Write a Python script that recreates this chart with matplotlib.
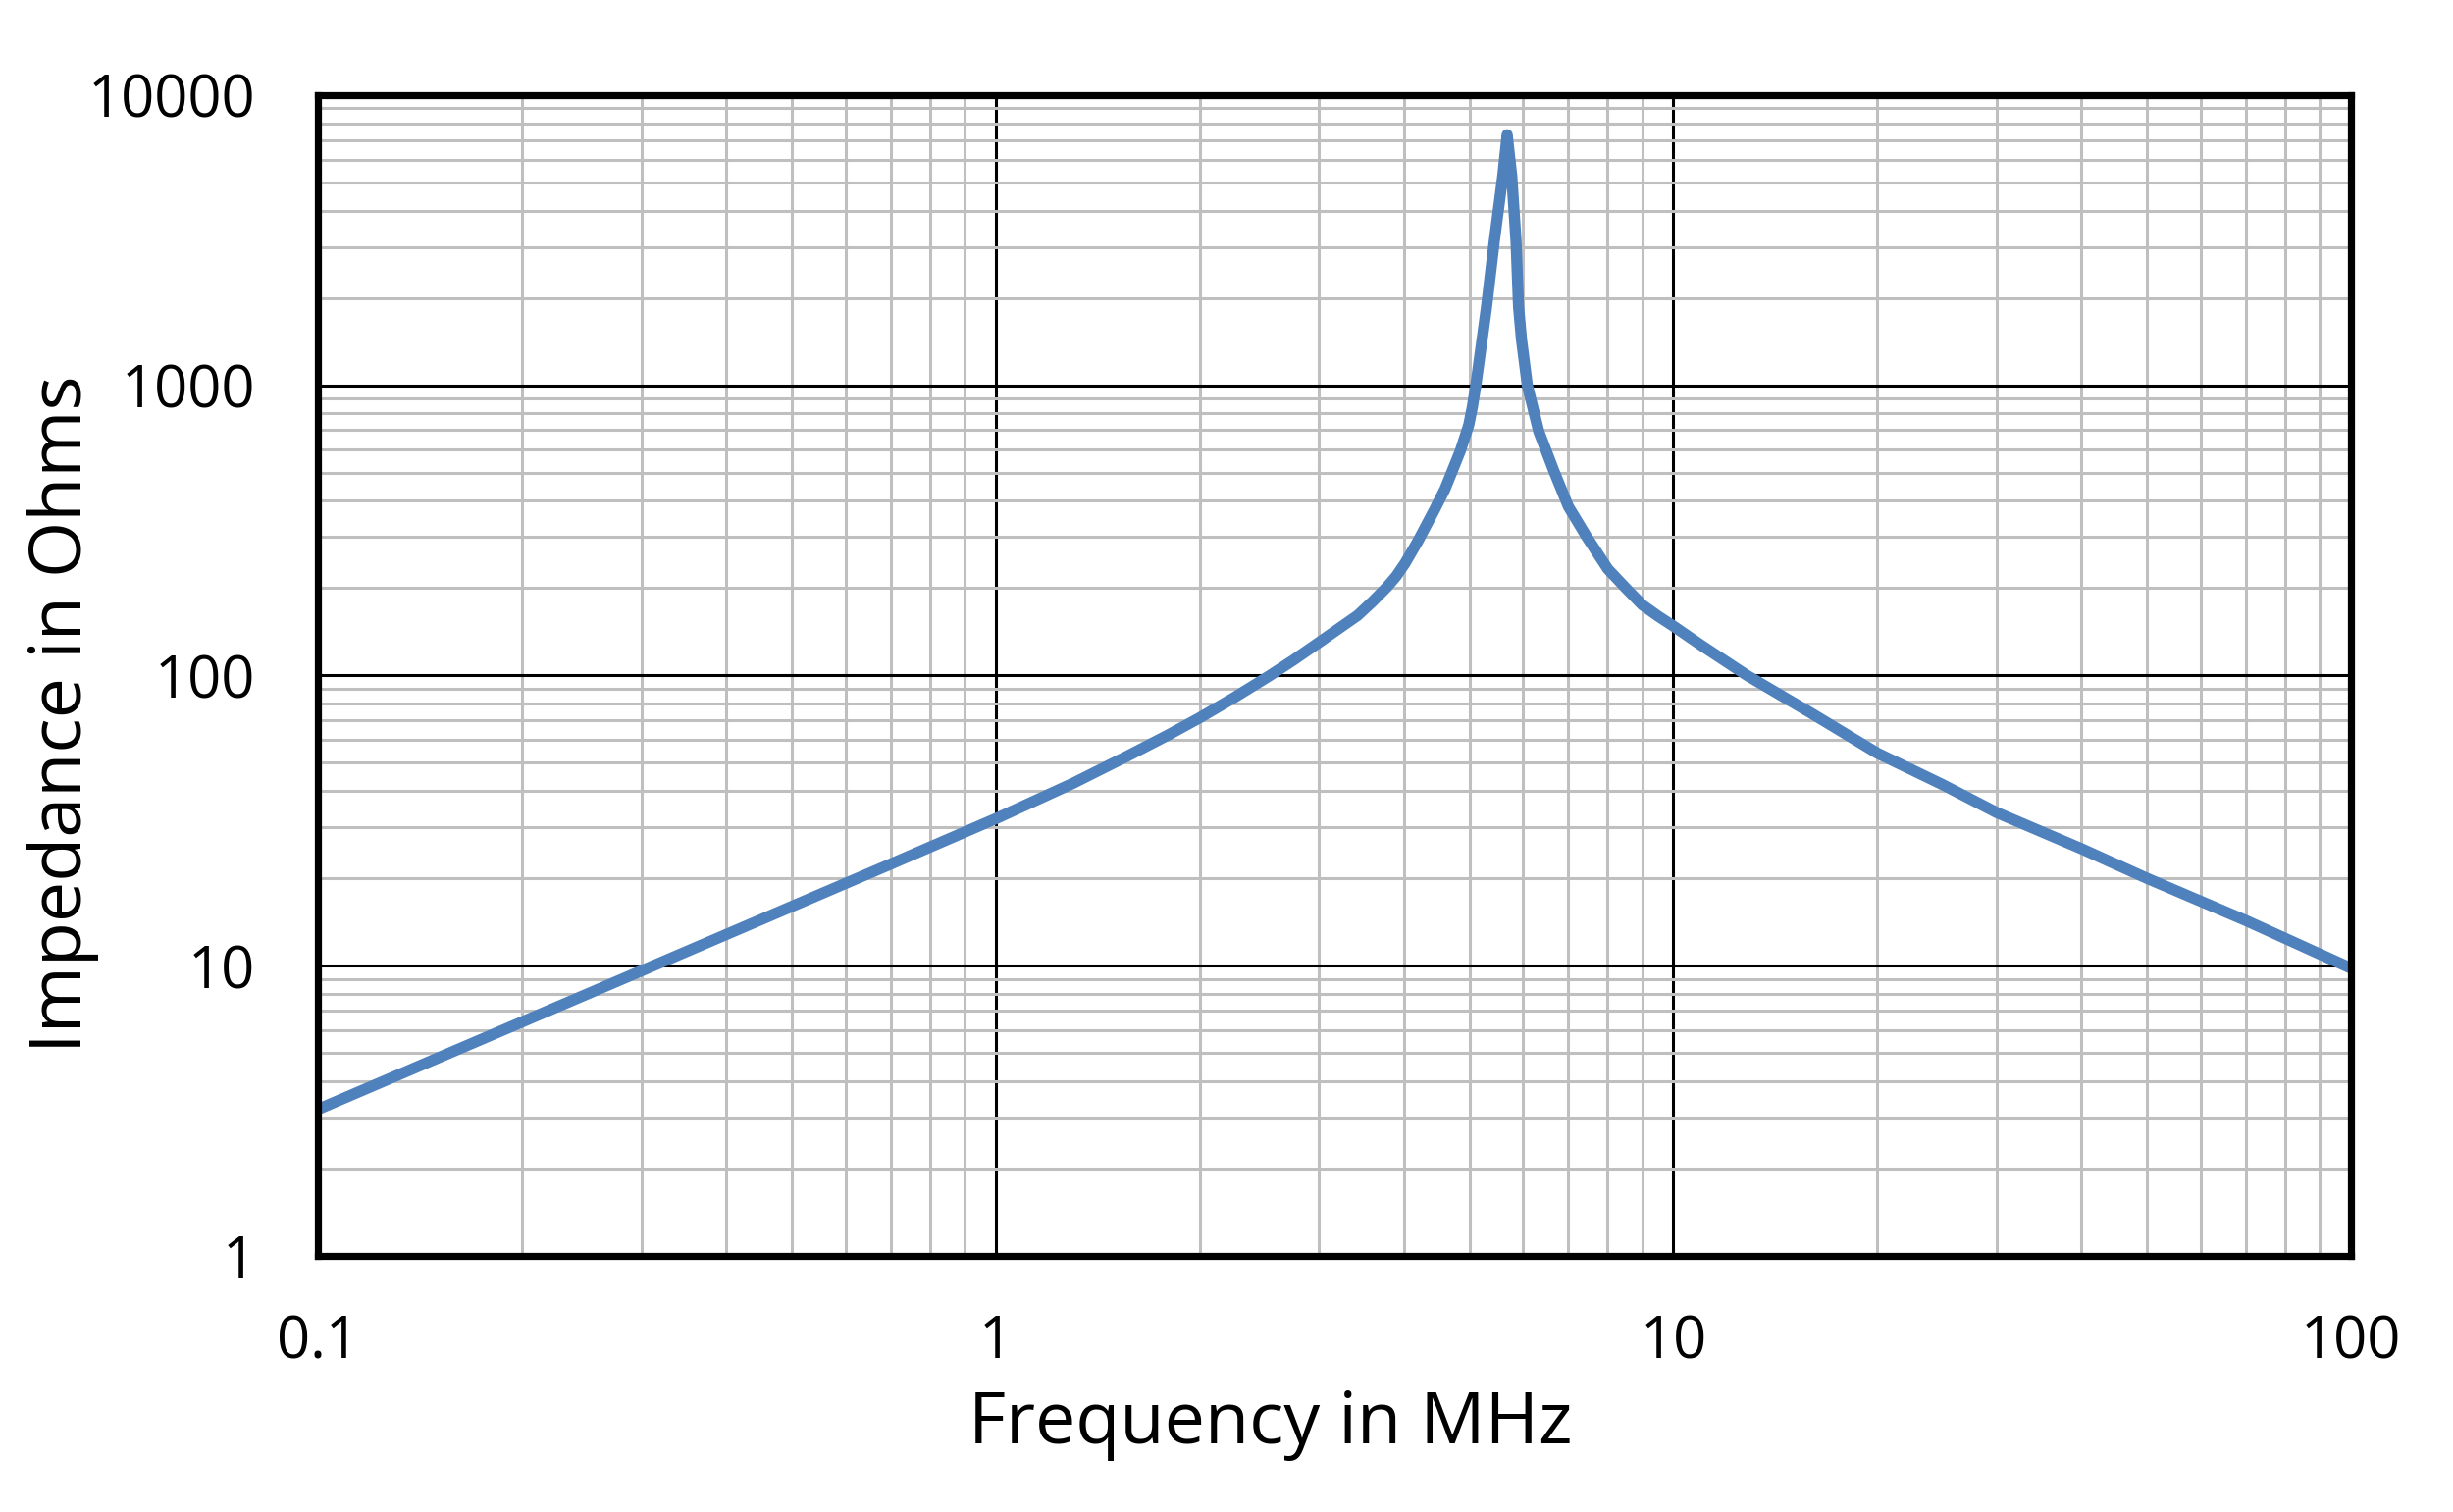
import matplotlib
matplotlib.use("Agg")
import matplotlib.pyplot as plt
from matplotlib.ticker import FixedLocator, NullFormatter

plt.rcParams['font.family'] = ['Open Sans', 'DejaVu Sans']

# impedance curve (MHz, Ohms)
freq_mhz = [0.1, 0.2, 0.3, 0.5, 0.7, 1.0, 1.3, 1.57, 1.8, 2.0, 2.25, 2.53,
            2.75, 3.0, 3.2, 3.42, 3.6, 3.78, 3.9, 4.02, 4.2, 4.44, 4.6,
            4.72, 4.85, 4.99, 5.05, 5.11, 5.3, 5.44, 5.6, 5.685, 5.775,
            5.86, 5.91, 5.97, 6.09, 6.33, 6.66, 7.0, 7.44, 8.0, 8.51, 9.0,
            9.5, 10.0, 11.0, 12.85, 16.0, 20.0, 25.0, 30.0, 40.0, 50.0,
            70.0, 100.0]
impedance_ohm = [3.2, 6.4, 9.6, 16.0, 22.4, 32.1, 42.5, 53.0, 62.5, 71.5,
                 84.0, 99.5, 113.0, 130.0, 144.5, 161.0, 180.0, 202.0, 220.0,
                 244.0, 291.0, 372.0, 438.0, 508.0, 595.0, 730.0, 840.0,
                 997.0, 1860.0, 3120.0, 5250.0, 7300.0, 5250.0, 3120.0,
                 1860.0, 1432.0, 998.0, 693.0, 508.0, 382.0, 302.0, 233.0,
                 200.0, 175.0, 160.0, 148.0, 127.0, 100.0, 74.0, 54.0, 42.0,
                 33.7, 25.3, 20.0, 14.3, 9.8]

x_ticks = [0.1, 1, 10, 100]
x_tick_labels = ['0.1', '1', '10', '100']
y_ticks = [1, 10, 100, 1000, 10000]
y_tick_labels = ['1', '10', '100', '1000', '10000']

fig = plt.figure(figsize=(12.5, 7.705), dpi=200)
ax = fig.add_axes([0.1297, 0.1694, 0.9584 - 0.1297, 0.9371 - 0.1694])

ax.plot(freq_mhz, impedance_ohm, color='#4F81BD', lw=4.1,
        solid_joinstyle='round', solid_capstyle='butt', zorder=3)

ax.set_xscale('log')
ax.set_yscale('log')
ax.set_xlim(0.1, 100)
ax.set_ylim(1, 10000)

ax.set_xticks(x_ticks)
ax.set_xticklabels(x_tick_labels)
ax.set_yticks(y_ticks)
ax.set_yticklabels(y_tick_labels)

minor_x = [m * d for d in (0.1, 1, 10) for m in range(2, 10)]
minor_y = [m * d for d in (1, 10, 100, 1000) for m in range(2, 10)]
ax.xaxis.set_minor_locator(FixedLocator(minor_x))
ax.yaxis.set_minor_locator(FixedLocator(minor_y))
ax.xaxis.set_minor_formatter(NullFormatter())
ax.yaxis.set_minor_formatter(NullFormatter())

ax.grid(which='minor', color='#BFBFBF', lw=1.1, zorder=1)
ax.grid(which='major', color='black', lw=1.1, zorder=2)
ax.set_axisbelow(True)

ax.tick_params(which='both', length=0)
ax.tick_params(axis='x', which='major', labelsize=21.5, pad=21)
ax.tick_params(axis='y', which='major', labelsize=21.5, pad=23)

for sp in ax.spines.values():
    sp.set_linewidth(2.6)
    sp.set_color('black')
    sp.set_zorder(4)

fig.text(0.518, 0.058, 'Frequency in MHz', fontsize=26.5, ha='center', va='center')
fig.text(0.0256, 0.528, 'Impedance in Ohms', fontsize=26.5, ha='center',
         va='center', rotation=90)

fig.savefig('out.png', dpi=200)
